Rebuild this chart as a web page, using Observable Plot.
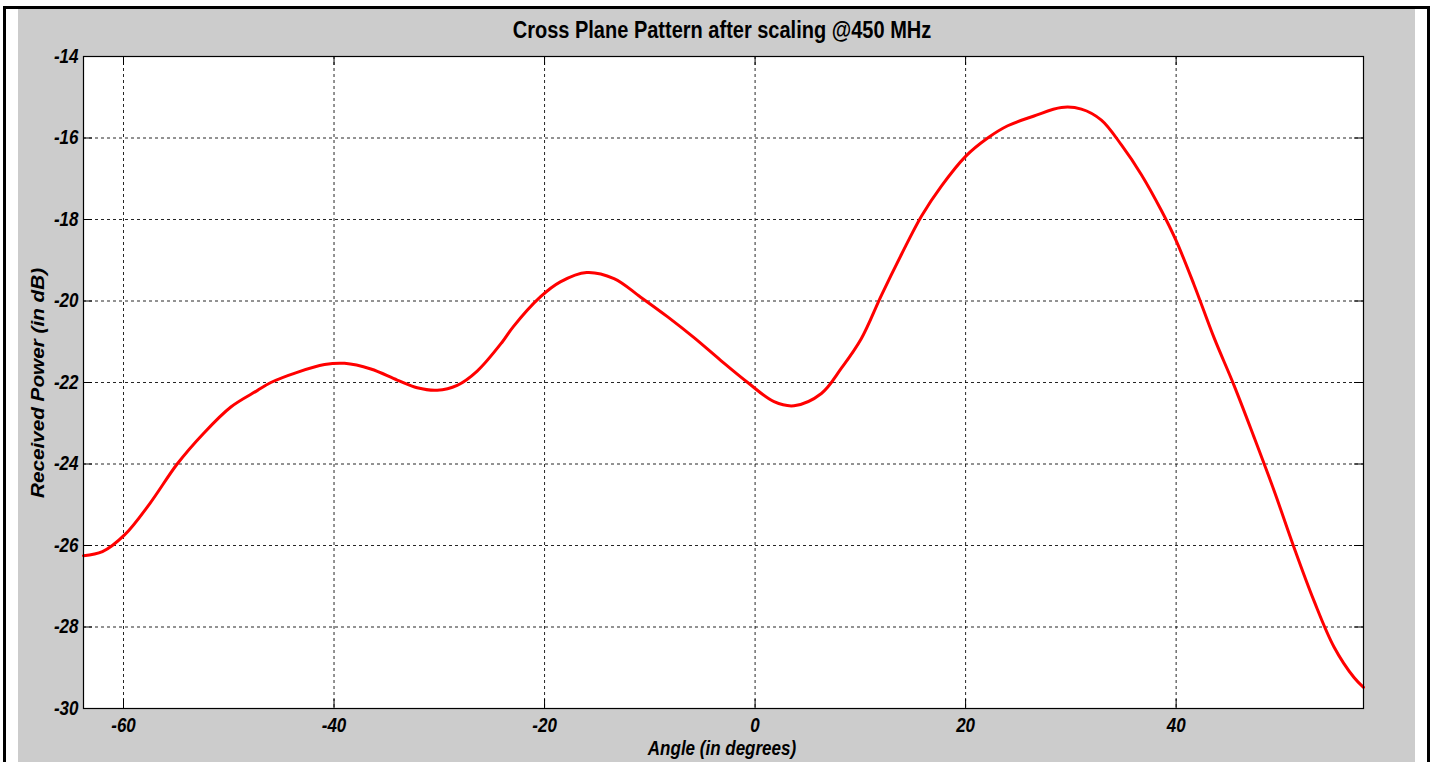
<!DOCTYPE html>
<html><head><meta charset="utf-8">
<script src="https://cdn.jsdelivr.net/npm/d3@7"></script>
<script src="https://cdn.jsdelivr.net/npm/@observablehq/plot@0.6"></script>
<style>
html,body{margin:0;padding:0;background:#fff;}
#wrap{position:relative;width:1435px;height:762px;overflow:hidden;}
.abs{position:absolute;}
.lbl{font-family:"Liberation Sans",Arial,sans-serif;font-weight:bold;color:#000;white-space:nowrap;}
</style></head><body>
<div id="wrap">
 <div class="abs" style="left:3px;top:6px;width:1427px;height:3px;background:#000"></div>
 <div class="abs" style="left:3px;top:6px;width:3px;height:756px;background:#000"></div>
 <div class="abs" style="left:1427px;top:6px;width:3px;height:756px;background:#000"></div>
 <div class="abs" style="left:18px;top:9px;width:1397px;height:753px;background:#cccccc"></div>
 <div id="chart" class="abs" style="left:0;top:0"></div>
 <div class="abs lbl" style="left:0;width:1444px;top:20px;text-align:center;font-size:20px;line-height:20px;transform:scaleY(1.15)">Cross Plane Pattern after scaling @450 MHz</div>
 <div class="abs lbl" style="left:0;width:1444px;top:740px;text-align:center;font-size:17px;line-height:17px;font-style:italic;transform:scaleY(1.15)">Angle (in degrees)</div>
 <div class="abs lbl" style="left:38px;top:383px;font-size:18px;line-height:18px;font-style:italic;transform:translate(-50%,-50%) rotate(-90deg) scaleX(1.15)">Received Power (in dB)</div>
</div>
<script>
const angle = [-63.8,-62.0,-59.9,-57.5,-54.9,-52.4,-49.8,-47.3,-46.0,-43.5,-40.9,-39.0,-36.5,-34.0,-32.1,-30.2,-28.3,-26.4,-24.0,-23.0,-20.4,-18.5,-16.0,-13.4,-10.9,-8.3,-5.8,-3.3,-0.7,1.8,3.7,6.3,8.2,10.1,12.0,13.9,15.8,17.7,20.0,22.1,24.0,26.5,29.1,31.0,32.9,34.8,36.7,38.6,40.0,41.7,43.6,45.5,47.4,49.3,51.2,53.1,55.0,56.9,57.8];
const power = [-26.25,-26.15,-25.74,-24.97,-24.0,-23.25,-22.6,-22.2,-22.0,-21.75,-21.56,-21.53,-21.67,-21.94,-22.13,-22.19,-22.07,-21.72,-21.0,-20.64,-19.9,-19.53,-19.3,-19.45,-19.9,-20.39,-20.9,-21.45,-22.0,-22.47,-22.57,-22.27,-21.65,-20.92,-19.86,-18.86,-17.92,-17.18,-16.45,-16.0,-15.7,-15.46,-15.25,-15.29,-15.56,-16.17,-16.9,-17.78,-18.52,-19.6,-20.9,-22.07,-23.34,-24.65,-26.05,-27.36,-28.49,-29.24,-29.48];
const xTicks = [-60,-40,-20,0,20,40];
const yTicks = [-30,-28,-26,-24,-22,-20,-18,-16,-14];
const xDomain = [-63.8, 57.8];
const yDomain = [-30, -14];

const FONT = '"Liberation Sans",Arial,sans-serif';
const data = angle.map((a, i) => ({angle: a, power: power[i]}));
const TL = 9;
const fmt = d => String(d);

const chart = Plot.plot({
  width: 1435, height: 762,
  marginLeft: 83, marginRight: 72, marginTop: 56, marginBottom: 54,
  style: {background: "transparent", fontFamily: FONT, fontSize: "17px", fontWeight: "bold", fontStyle: "italic", color: "#000", overflow: "visible"},
  x: {domain: xDomain},
  y: {domain: yDomain},
  marks: [
    Plot.frame({fill: "white", stroke: null}),
    Plot.gridX(xTicks, {stroke: "#000", strokeOpacity: 0.85, strokeDasharray: "3,3"}),
    Plot.gridY(yTicks, {stroke: "#000", strokeOpacity: 0.85, strokeDasharray: "3,3"}),
    Plot.line(data, {x: "angle", y: "power", stroke: "#ff0000", strokeWidth: 3, curve: "catmull-rom"}),
    Plot.ruleX(xTicks, {x: d => d, y1: () => yDomain[0], y2: () => yDomain[0], insetTop: -TL, stroke: "#000"}),
    Plot.ruleX(xTicks, {x: d => d, y1: () => yDomain[1], y2: () => yDomain[1], insetBottom: -TL, stroke: "#000"}),
    Plot.ruleY(yTicks, {y: d => d, x1: () => xDomain[0], x2: () => xDomain[0], insetRight: -TL, stroke: "#000"}),
    Plot.ruleY(yTicks, {y: d => d, x1: () => xDomain[1], x2: () => xDomain[1], insetLeft: -TL, stroke: "#000"}),
    Plot.frame({stroke: "#000", strokeWidth: 1.2}),
    Plot.axisX(xTicks, {tickSize: 0, tickPadding: 10, tickFormat: fmt, label: null}),
    Plot.axisY(yTicks, {tickSize: 0, tickPadding: 5, tickFormat: fmt, label: null})
  ]
});
chart.querySelectorAll('g[aria-label="x-axis tick label"] text, g[aria-label="y-axis tick label"] text').forEach(t => {
  const tr = t.getAttribute("transform") || "";
  t.setAttribute("transform", tr + " scale(1,1.15)");
});
document.getElementById("chart").appendChild(chart);
</script>
</body></html>
